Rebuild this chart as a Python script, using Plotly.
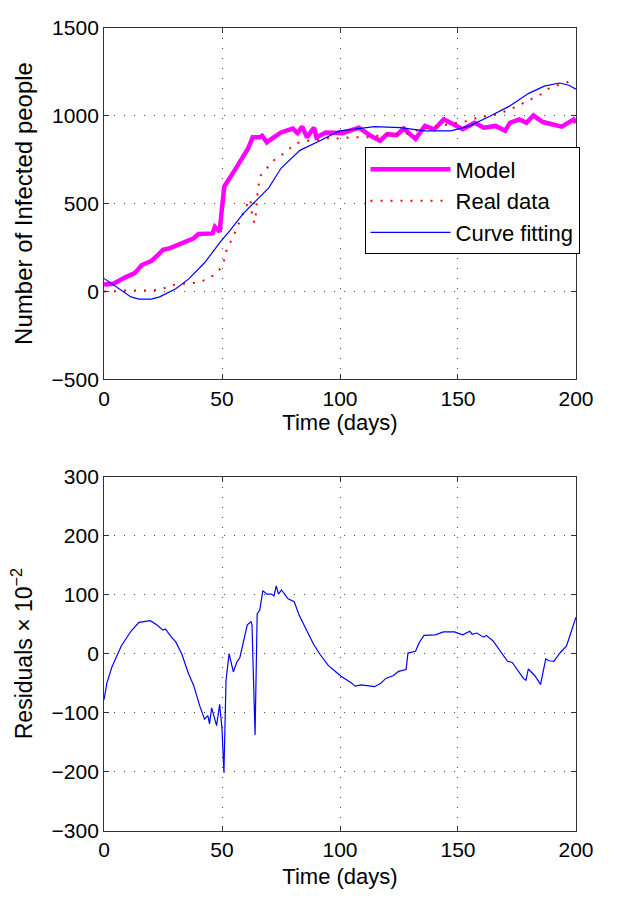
import plotly.graph_objects as go

# ---------------- data ----------------
model_day = [0, 4, 9, 13, 16, 20, 23, 25, 28, 32, 35, 38, 40, 46, 47, 49, 50, 51, 55, 59, 61,
             63, 66, 67, 69, 71, 75, 80, 82, 84, 86, 89, 90, 94, 100, 101, 108, 113, 117, 120,
             124, 127, 132, 136, 140, 144, 148, 152, 157, 161, 166, 170, 172, 176, 179,
             182, 186, 190, 194, 199, 200]
model_val = [39, 44, 80, 104, 150, 172, 209, 237, 246, 270, 283, 302, 326, 330, 367, 339, 478,
             598, 681, 774, 811, 876, 876, 885, 848, 867, 904, 926, 900, 937, 876, 931, 876,
             904, 904, 900, 931, 885, 857, 894, 889, 926, 867, 941, 922, 978, 950, 922, 959,
             931, 941, 913, 959, 978, 959, 1000, 963, 950, 937, 978, 959]

real_day = [0, 4, 8, 12, 16, 20, 24, 28, 32, 36, 40, 44, 48, 50, 51, 52, 55, 58, 60, 62, 63,
            64, 65, 66, 72, 77, 81, 85, 89, 93, 97, 100, 104, 108, 112, 116, 120, 124, 128,
            134, 138, 142, 146, 150, 154, 158, 162, 166, 170, 175, 179, 182, 186, 189, 192,
            196, 200]
real_val = [0, 0, 5, 5, 5, 5, 10, 33, 44, 44, 52, 70, 107, 144, 181, 237, 320, 413, 478, 524,
            404, 390, 552, 654, 746, 793, 839, 857, 857, 867, 876, 867, 876, 876, 876, 885,
            894, 894, 894, 922, 931, 941, 950, 959, 969, 987, 996, 1006, 1024, 1052, 1080,
            1098, 1126, 1159, 1172, 1185, 1204]

fit_day = [0, 4.6, 11.4, 14.8, 20, 23.6, 30.4, 35.8, 42.6, 49.4, 53.5, 58.9, 64.4, 69.8, 75,
           83, 91.5, 99.7, 107.8, 114.6, 125.5, 136, 147, 155, 163.5, 171.6, 180, 186.6, 193,
           197, 200]
fit_val = [74, 33, -31, -44, -44, -31, 15, 70, 163, 283, 348, 441, 515, 589, 700, 802, 857,
           913, 926, 937, 931, 913, 913, 941, 996, 1052, 1126, 1167, 1185, 1172, 1150]

res_day = [0, 1.2, 3.3, 7.3, 11.4, 14.8, 19.6, 22.3, 25, 26, 28.4, 30.4, 33, 35.8, 37.9, 40.6,
           42.6, 44, 44.7, 45.6, 47.7, 49, 50, 50.8, 51.7, 53, 54.8, 56.2, 57.6, 60.7, 62.3,
           62.7, 64, 64.9, 66, 67.3, 69, 71, 72, 73, 73.9, 75.2, 78, 80.6, 82.7, 86, 88.8,
           91.5, 95, 98.3, 100.3, 105, 106.4, 109, 114.6, 117.3, 119.4, 122.7, 124.8, 128,
           128.8, 132, 133.6, 135.6, 140.4, 143.8, 148.5, 152, 155, 156, 158, 160.8, 162,
           164.8, 168.2, 171, 173, 175, 177.7, 178.8, 179.8, 182.5, 185, 187.2, 188.6, 190.6,
           193.4, 196, 198, 200]
res_val = [-78, -50, -23, 13, 38, 53, 56, 49, 40, 42, 29, 20, -1, -34, -53, -89, -111, -105,
           -119, -92, -122, -86, -128, -202, -45, 0, -31, -15, -6, 49, 54, 49, -138, 68, 74,
           107, 101, 101, 98, 115, 101, 108, 93, 88, 65, 38, 16, -1, -20, -31, -38, -50, -55,
           -53, -56, -50, -42, -37, -30, -27, 1, 4, 19, 31, 32, 37, 37, 32, 38, 33, 35, 28,
           31, 22, 2, -13, -15, -26, -42, -45, -26, -37, -52, -9, -12, -13, 2, 13, 38, 62]

x_ticks = [0, 50, 100, 150, 200]
top_y_ticks = [-500, 0, 500, 1000, 1500]
bot_y_ticks = [-300, -200, -100, 0, 100, 200, 300]

# ---------------- figure ----------------
W, H = 618, 900
FONT = "Liberation Sans, Arial, Helvetica, sans-serif"

fig = go.Figure()
fig.add_trace(go.Scatter(x=model_day, y=model_val, mode="lines", name="Model",
                         line=dict(color="#FF00FF", width=4.5), xaxis="x", yaxis="y"))
fig.add_trace(go.Scatter(x=real_day, y=real_val, mode="lines", name="Real data",
                         line=dict(color="#FF0000", width=2, dash="2px,8px"),
                         xaxis="x", yaxis="y"))
fig.add_trace(go.Scatter(x=fit_day, y=fit_val, mode="lines", name="Curve fitting",
                         line=dict(color="#0000FF", width=1.2), xaxis="x", yaxis="y"))
fig.add_trace(go.Scatter(x=res_day, y=res_val, mode="lines", showlegend=False,
                         line=dict(color="#0000FF", width=1.2), xaxis="x2", yaxis="y2"))

x0, x1 = 102 / W, 593 / W
top_dom = [1 - 377 / H, 1 - 16 / H]
bot_dom = [1 - 840 / H, 1 - 477 / H]

common = dict(showline=True, linecolor="#333333", linewidth=1, mirror="ticks",
              ticks="inside", ticklen=5, tickcolor="#333333",
              showgrid=True, gridcolor="#444444", gridwidth=1, griddash="1px,9px",
              zeroline=False, tickfont=dict(size=21, color="black"))

fig.update_layout(
    width=W, height=H,
    margin=dict(l=0, r=0, t=0, b=0),
    paper_bgcolor="white", plot_bgcolor="white",
    font=dict(family=FONT, color="black"),
    xaxis=dict(domain=[x0, x1], anchor="y", range=[0, 200], tickvals=x_ticks,
               title=dict(text="Time (days)", font=dict(size=22), standoff=6), **common),
    yaxis=dict(domain=top_dom, anchor="x", range=[-500, 1500], tickvals=top_y_ticks,
               title=dict(text="Number of Infected people", font=dict(size=24), standoff=12),
               **common),
    xaxis2=dict(domain=[x0, x1], anchor="y2", range=[0, 200], tickvals=x_ticks,
                title=dict(text="Time (days)", font=dict(size=22), standoff=8), **common),
    yaxis2=dict(domain=bot_dom, anchor="x2", range=[-300, 300], tickvals=bot_y_ticks,
                title=dict(text="Residuals \u00d7 10<sup>\u22122</sup>", font=dict(size=23),
                           standoff=12),
                **common),
    legend=dict(x=373 / W, y=1 - 139 / H, xanchor="left", yanchor="top",
                bgcolor="white", bordercolor="black", borderwidth=1,
                font=dict(size=22, color="black"), itemwidth=80, tracegroupgap=0),
    showlegend=True,
)

fig.write_html("out.html")
